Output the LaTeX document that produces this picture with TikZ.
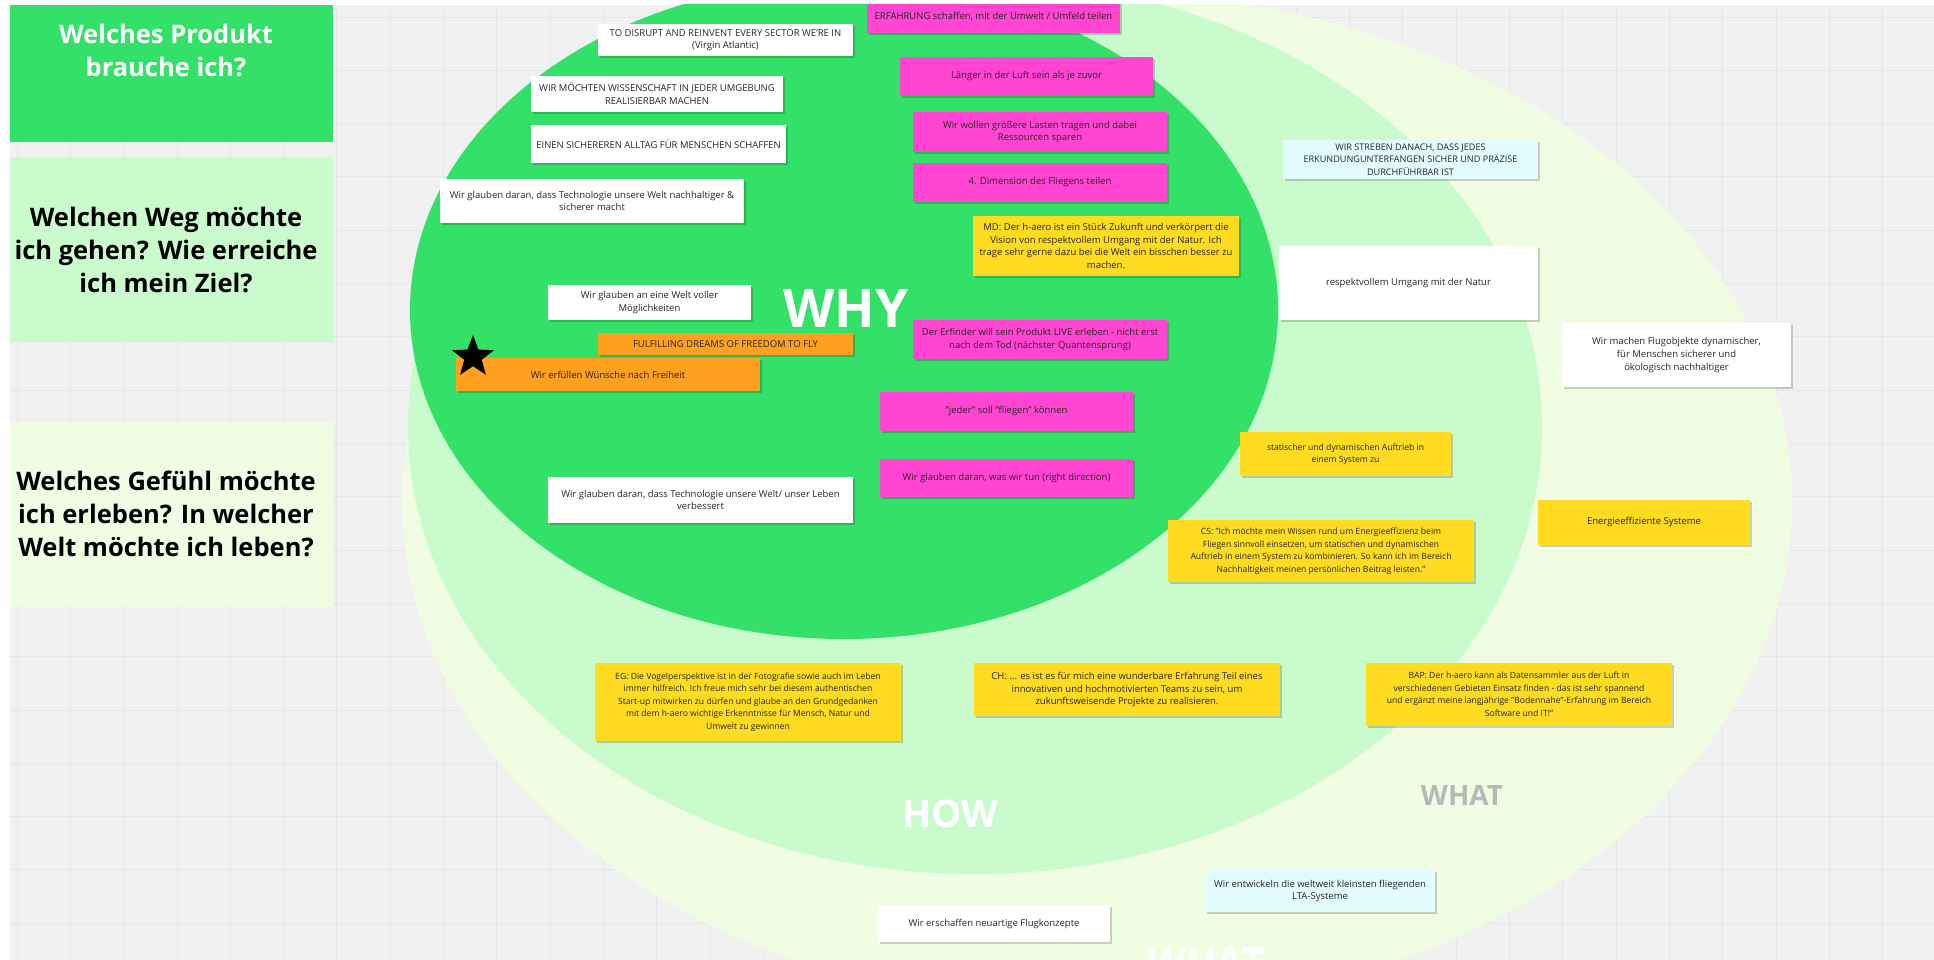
\documentclass[tikz,border=0pt]{standalone}
\usepackage{fontspec}
\setmainfont{Open Sans}
\usepackage{tikz}
\usetikzlibrary{shapes.geometric, shadows}

\definecolor{whygreen}{HTML}{33E068}
\definecolor{howgreen}{HTML}{C9FBCC}
\definecolor{whatgreen}{HTML}{F1FDE3}
\definecolor{notepink}{HTML}{FF45D2}
\definecolor{noteyellow}{HTML}{FFDC21}
\definecolor{noteorange}{HTML}{FFA01E}
\definecolor{notecyan}{HTML}{E1FBFF}
\definecolor{boardgray}{HTML}{F1F1F1}
\definecolor{gridgray}{HTML}{E6E6E6}
\definecolor{whatgray}{HTML}{B8B8B8}

\newcommand{\stickyfont}{\fontsize{9.5}{12.6}\selectfont}
\newcommand{\smallstickyfont}{\fontsize{8.6}{12.5}\selectfont}
\newcommand{\panelfont}{\fontsize{25.5}{33}\selectfont\bfseries}

\begin{document}
\begin{tikzpicture}[x=1pt, y=-1pt,
    sticky/.style={rectangle, inner sep=1pt, align=center, text=black!85, font=\stickyfont,
        drop shadow={shadow xshift=1.5pt, shadow yshift=-2pt, fill=black, opacity=0.18}},
    dims/.style 2 args={minimum width=#1pt, minimum height=#2pt},
    smalltext/.style={font=\smallstickyfont},
    whitenote/.style={sticky, fill=white},
    pinknote/.style={sticky, fill=notepink},
    yellownote/.style={sticky, fill=noteyellow},
    orangenote/.style={sticky, fill=noteorange},
    cyannote/.style={sticky, fill=notecyan},
    panel/.style={rectangle, inner sep=0pt, minimum width=323pt, minimum height=185pt},
    paneltext/.style={align=center, font=\panelfont},
    ringlabel/.style={font=\bfseries, text=white}]

    % Board
    \useasboundingbox (0,0) rectangle (1934,960);
    \fill[white] (0,0) rectangle (1934,960);
    \clip (10,5) rectangle (1934,960);
    \fill[boardgray] (10,5) rectangle (1934,960);
    \foreach \gx in {17,70.3,...,1934}
        \draw[gridgray, line width=0.8pt] (\gx,5) -- (\gx,960);
    \foreach \gy in {17,70.3,...,960}
        \draw[gridgray, line width=0.8pt] (10,\gy) -- (1934,\gy);

    % Golden circle
    \fill[whatgreen] (1097,502) ellipse [x radius=695pt, y radius=509pt];
    \fill[howgreen] (975,427) ellipse [x radius=567pt, y radius=447pt];
    \fill[whygreen] (844,310) ellipse [x radius=434pt, y radius=329pt];

    \node[ringlabel, font=\fontsize{53}{60}\selectfont\bfseries] (why) at (846,309) {WHY};
    \node[ringlabel, font=\fontsize{38}{44}\selectfont\bfseries] (how) at (950,814) {HOW};
    \node[ringlabel, text=whatgray, font=\fontsize{28}{32}\selectfont\bfseries] (whatgraylbl) at (1462,795) {WHAT};
    \node[ringlabel, anchor=base, font=\fontsize{40}{46}\selectfont\bfseries] (whatlbl) at (1206,977) {WHAT};

    % Left questions
    \node[panel, fill=whygreen, minimum height=137pt] (panelwhat) at (171.5,73.5) {};
    \node[paneltext, text=white] (panelwhattext) at (166,50.5) {Welches Produkt\\brauche ich?};
    \node[panel, fill=howgreen] (panelhow) at (171.5,249.5) {};
    \node[paneltext] (panelhowtext) at (166,250) {Welchen Weg möchte\\ich gehen? Wie erreiche\\ich mein Ziel?};
    \node[panel, fill=whatgreen] (panelwhy) at (171.5,514.5) {};
    \node[paneltext] (panelwhytext) at (166,514) {Welches Gefühl möchte\\ich erleben? In welcher\\Welt möchte ich leben?};

    % WHY notes
    \node[whitenote, dims={255}{32}] (disrupt) at (725.5,40) {TO DISRUPT AND REINVENT EVERY SECTOR WE'RE IN\\(Virgin Atlantic)};
    \node[whitenote, dims={252}{36}] (wissenschaft) at (657,94) {WIR MÖCHTEN WISSENSCHAFT IN JEDER UMGEBUNG\\REALISIERBAR MACHEN};
    \node[whitenote, dims={255}{38}] (alltag) at (658.5,144) {EINEN SICHEREREN ALLTAG FÜR MENSCHEN SCHAFFEN};
    \node[whitenote, dims={304}{44}] (techwelt) at (592,201) {Wir glauben daran, dass Technologie unsere Welt nachhaltiger \&\\sicherer macht};
    \node[whitenote, dims={203}{35}] (moeglich) at (649.5,302.5) {Wir glauben an eine Welt voller\\Möglichkeiten};
    \node[orangenote, dims={255}{22}] (fulfill) at (725.5,344) {FULFILLING DREAMS OF FREEDOM TO FLY};
    \node[orangenote, dims={304}{33}] (freiheit) at (608,374.5) {Wir erfüllen Wünsche nach Freiheit};
    \node[star, star points=5, star point ratio=2.4, fill=black, minimum size=44pt, inner sep=0pt] (favstar) at (473,357) {};
    \node[whitenote, dims={305}{46}] (techleben) at (700.5,500) {Wir glauben daran, dass Technologie unsere Welt/ unser Leben\\verbessert};

    \node[pinknote, dims={253}{33}] (erfahrung) at (993.5,16.5) {ERFAHRUNG schaffen, mit der Umwelt / Umfeld teilen};
    \node[pinknote, dims={253}{39}] (laenger) at (1026.5,76.5) {Länger in der Luft sein als je zuvor};
    \node[pinknote, dims={254}{40}] (lasten) at (1040,132) {Wir wollen größere Lasten tragen und dabei\\Ressourcen sparen};
    \node[pinknote, dims={254}{39}] (dimension) at (1040,182.5) {4. Dimension des Fliegens teilen};
    \node[yellownote, dims={266}{60}] (md) at (1106,246) {MD: Der h-aero ist ein Stück Zukunft und verkörpert die\\Vision von respektvollem Umgang mit der Natur. Ich\\trage sehr gerne dazu bei die Welt ein bisschen besser zu\\machen.};
    \node[pinknote, dims={254}{39}] (erfinder) at (1040,339.5) {Der Erfinder will sein Produkt LIVE erleben - nicht erst\\nach dem Tod (nächster Quantensprung)};
    \node[pinknote, dims={253}{39}] (jeder) at (1006.5,411.5) {"jeder" soll "fliegen" können};
    \node[pinknote, dims={253}{38}] (richtung) at (1006.5,478) {Wir glauben daran, was wir tun (right direction)};

    % HOW notes
    \node[cyannote, dims={255}{39}, font=\fontsize{9.1}{12.3}\selectfont] (streben) at (1410.5,159.5) {WIR STREBEN DANACH, DASS JEDES\\ERKUNDUNGUNTERFANGEN SICHER UND PRÄZISE\\DURCHFÜHRBAR IST};
    \node[whitenote, dims={259}{74}] (respekt) at (1408.5,283) {respektvollem Umgang mit der Natur};
    \node[yellownote, smalltext, dims={211}{44}] (auftrieb) at (1345.5,454) {statischer und dynamischen Auftrieb in\\einem System zu};
    \node[yellownote, smalltext, dims={306}{62}] (cs) at (1321,551) {CS: "Ich möchte mein Wissen rund um Energieeffizienz beim\\Fliegen sinnvoll einsetzen, um statischen und dynamischen\\Auftrieb in einem System zu kombinieren. So kann ich im Bereich\\Nachhaltigkeit meinen persönlichen Beitrag leisten."};
    \node[yellownote, smalltext, dims={306}{78}] (eg) at (748,702) {EG: Die Vogelperspektive ist in der Fotografie sowie auch im Leben\\immer hilfreich. Ich freue mich sehr bei diesem authentischen\\Start-up mitwirken zu dürfen und glaube an den Grundgedanken\\mit dem h-aero wichtige Erkenntnisse für Mensch, Natur und\\Umwelt zu gewinnen};
    \node[yellownote, dims={306}{53}] (ch) at (1127,689.5) {CH: ... es ist es für mich eine wunderbare Erfahrung Teil eines\\innovativen und hochmotivierten Teams zu sein, um\\zukunftsweisende Projekte zu realisieren.};

    % WHAT notes
    \node[whitenote, dims={229}{64}] (flugobjekte) at (1676.5,355) {Wir machen Flugobjekte dynamischer,\\für Menschen sicherer und\\ökologisch nachhaltiger};
    \node[yellownote, dims={212}{45}] (energie) at (1644,522.5) {Energieeffiziente Systeme};
    \node[yellownote, smalltext, dims={306}{63}] (bap) at (1519,694.5) {BAP: Der h-aero kann als Datensammler aus der Luft in\\verschiedenen Gebieten Einsatz finden - das ist sehr spannend\\und ergänzt meine langjährige "Bodennahe"-Erfahrung im Bereich\\Software und IT!"};
    \node[cyannote, dims={230}{42}] (lta) at (1320,891) {Wir entwickeln die weltweit kleinsten fliegenden\\LTA-Systeme};
    \node[whitenote, dims={232}{37}] (flugkonzepte) at (994,923.5) {Wir erschaffen neuartige Flugkonzepte};
\end{tikzpicture}
\end{document}
